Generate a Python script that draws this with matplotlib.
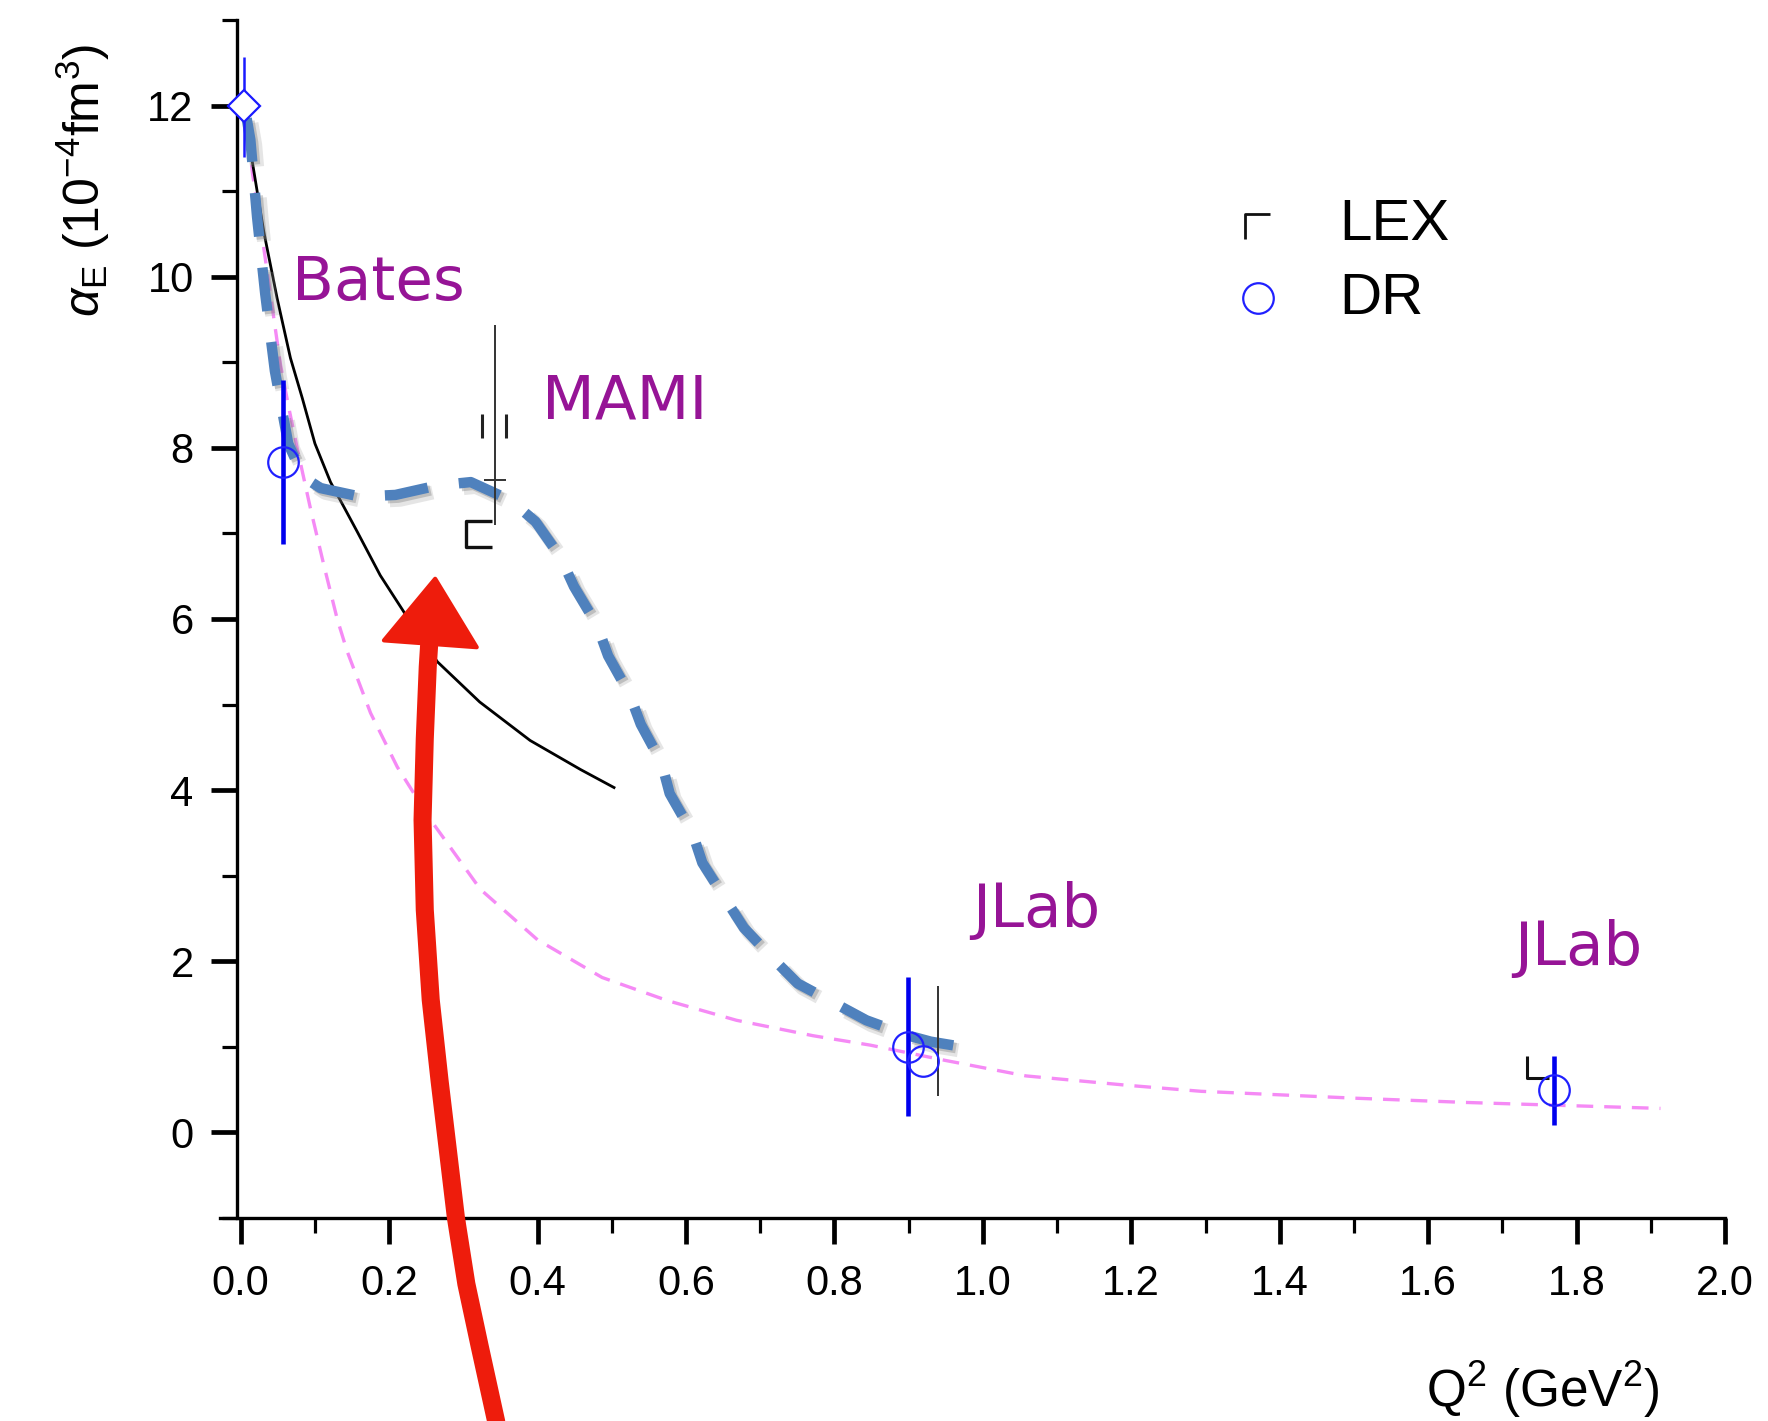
import matplotlib
matplotlib.use('Agg')
import matplotlib.pyplot as plt
import matplotlib.patheffects as pe
from matplotlib.path import Path
from matplotlib.patches import Polygon
from matplotlib.ticker import MultipleLocator, FormatStrFormatter

plt.rcParams['font.family'] = ['Liberation Sans', 'DejaVu Sans']
plt.rcParams['mathtext.fontset'] = 'custom'
plt.rcParams['mathtext.rm'] = 'Liberation Sans'
plt.rcParams['mathtext.it'] = 'Liberation Sans:italic'
plt.rcParams['mathtext.sf'] = 'Liberation Sans'

# ---------------- data ----------------
# real-photon point
rcs_q2 = [0.005]
rcs_alpha = [12.0]
rcs_err_lo = [0.60]
rcs_err_hi = [0.57]

# DR analysis points (blue circles)
dr_q2 = [0.057, 0.899, 0.919, 1.769]
dr_alpha = [7.84, 1.00, 0.83, 0.50]
dr_err_lo = [0.96, 0.81, 0.0, 0.41]
dr_err_hi = [0.95, 0.82, 0.0, 0.39]

# LEX analysis points (black)
lex_q2 = [0.343, 0.940]
lex_alpha = [7.63, 1.06]
lex_err_lo = [0.53, 0.64]
lex_err_hi = [1.81, 0.65]
lex_mark_q2 = [0.321, 1.748]
lex_mark_alpha = [6.99, 0.76]

# black solid curve
black_q2 = [0.006, 0.0155, 0.031, 0.049, 0.067, 0.083, 0.100, 0.121, 0.157, 0.188, 0.220,
            0.265, 0.322, 0.390, 0.458, 0.503]
black_alpha = [11.95, 11.35, 10.53, 9.75, 9.05, 8.58, 8.05, 7.60, 7.02, 6.51, 6.08,
               5.50, 5.03, 4.58, 4.24, 4.03]

# pink dashed curve
pink_q2 = [0.006, 0.016, 0.030, 0.0536, 0.065, 0.076, 0.094, 0.112, 0.130, 0.1435, 0.161,
           0.175, 0.211, 0.256, 0.323, 0.400, 0.487, 0.575, 0.668, 0.771, 0.848, 0.950,
           1.058, 1.195, 1.294, 1.500, 1.650, 1.800, 1.913]
pink_alpha = [11.95, 11.2, 10.4, 8.97, 8.46, 8.00, 7.29, 6.63, 6.00, 5.62, 5.22,
              4.90, 4.27, 3.65, 2.84, 2.25, 1.81, 1.54, 1.31, 1.13, 1.02, 0.84,
              0.66, 0.55, 0.48, 0.40, 0.35, 0.31, 0.28]

# thick blue hand-drawn dashed curve
blue_q2 = [0.008, 0.013, 0.022, 0.033, 0.046, 0.064, 0.074, 0.088, 0.1075, 0.161, 0.2085,
           0.265, 0.310, 0.363, 0.397, 0.431, 0.449, 0.480, 0.495, 0.524, 0.539, 0.567,
           0.578, 0.609, 0.622, 0.655, 0.678, 0.7195, 0.7505, 0.8045, 0.843, 0.900,
           0.930, 1.000]
blue_alpha = [11.85, 11.6, 10.7, 9.8, 8.9, 8.05, 7.86, 7.64, 7.53, 7.43, 7.45,
              7.56, 7.60, 7.39, 7.14, 6.72, 6.38, 5.93, 5.57, 5.12, 4.77, 4.32,
              3.96, 3.49, 3.15, 2.70, 2.39, 2.01, 1.74, 1.49, 1.31, 1.13,
              1.06, 0.96]

# labels
lab_text = ['Bates', 'MAMI', 'JLab', 'JLab']
lab_q2 = [0.0687, 0.4066, 0.986, 1.716]
lab_alpha = [9.73, 8.34, 2.40, 1.96]

# red hand-drawn arrow (annotation)
arrow_q2 = [0.346, 0.322, 0.304, 0.290, 0.279, 0.268, 0.256, 0.248, 0.245, 0.248, 0.252, 0.255]
arrow_alpha = [-3.45, -2.50, -1.77, -1.00, -0.20, 0.60, 1.55, 2.60, 3.65, 4.60, 5.44, 5.85]
head_q2 = [0.262, 0.193, 0.318]
head_alpha = [6.47, 5.75, 5.67]

# ---------------- figure ----------------
fig = plt.figure(figsize=(17.68, 14.21), dpi=100)
ax = fig.add_axes([0.1244, 0.1429, 0.8513, 0.843])

ax.set_xlim(-0.028, 2.0)
ax.set_ylim(-1.0, 13.0)

for s in ['top', 'right']:
    ax.spines[s].set_visible(False)
ax.spines['left'].set_position(('data', -0.0054))
ax.spines['left'].set_linewidth(2.4)
ax.spines['bottom'].set_linewidth(2.4)

ax.xaxis.set_major_locator(MultipleLocator(0.2))
ax.xaxis.set_minor_locator(MultipleLocator(0.1))
ax.yaxis.set_major_locator(MultipleLocator(2))
ax.yaxis.set_minor_locator(MultipleLocator(1))
ax.xaxis.set_major_formatter(FormatStrFormatter('%.1f'))
ax.yaxis.set_major_formatter(FormatStrFormatter('%d'))
ax.tick_params(which='major', direction='out', length=19, width=3.4, labelsize=30, pad=12)
ax.tick_params(which='minor', direction='out', length=11, width=2.3)
ax.tick_params(axis='x', which='major', pad=14)

# curves
ax.plot(pink_q2, pink_alpha, color='#f58af5', lw=2.4, dashes=(5, 3.3), zorder=2)
ax.plot(black_q2, black_alpha, color='black', lw=2.0, zorder=3)
ax.plot(blue_q2, blue_alpha, color='#4f81bd', lw=7.5, dashes=(4.2, 3.0),
        dash_capstyle='butt', dash_joinstyle='round', zorder=4,
        path_effects=[pe.SimpleLineShadow(offset=(3.5, -3.5), shadow_color='#999999', alpha=0.25,
                                          linewidth=10),
                      pe.SimpleLineShadow(offset=(2, -2), shadow_color='#777777', alpha=0.35),
                      pe.Normal()])

# LEX points
ax.errorbar(lex_q2, lex_alpha, yerr=[lex_err_lo, lex_err_hi], fmt='none', ecolor='#333333',
            elinewidth=1.4, capsize=0, zorder=5)
ax.plot([lex_q2[0]], [lex_alpha[0]], marker='_', ms=16, mew=1.4, color='#333333', ls='none', zorder=5)
ax.plot([0.325, 0.357], [8.25, 8.25], marker='|', ms=17, mew=2.2, color='#222222', ls='none', zorder=5)

bracket = Path([(0.5, 0.5), (-0.5, 0.5), (-0.5, -0.5), (0.5, -0.5)],
               [Path.MOVETO, Path.LINETO, Path.LINETO, Path.LINETO])
corner_bl = Path([(-0.5, 0.5), (-0.5, -0.5), (0.5, -0.5)],
                 [Path.MOVETO, Path.LINETO, Path.LINETO])
corner_tl = Path([(-0.5, -0.5), (-0.5, 0.5), (0.5, 0.5)],
                 [Path.MOVETO, Path.LINETO, Path.LINETO])
ax.plot([lex_mark_q2[0]], [lex_mark_alpha[0]], marker=bracket, ms=19, mew=2.4,
        color='#111111', mfc='none', ls='none', zorder=5)
ax.plot([lex_mark_q2[1]], [lex_mark_alpha[1]], marker=corner_bl, ms=16, mew=2.2,
        color='#111111', mfc='none', ls='none', zorder=5)

# DR points
ax.errorbar(rcs_q2, rcs_alpha, yerr=[rcs_err_lo, rcs_err_hi], fmt='D', ms=16, mfc='white',
            mec='#1a1aff', mew=1.6, ecolor='#1a1aff', elinewidth=1.8, capsize=0, zorder=6)
ax.errorbar(dr_q2, dr_alpha, yerr=[dr_err_lo, dr_err_hi], fmt='none', ecolor='#0000ee',
            elinewidth=3.3, capsize=0, zorder=6)
ax.plot(dr_q2, dr_alpha, 'o', ms=22, mfc='none', mec='#2020ff', mew=1.6, zorder=7)

# labels
for t, x, y in zip(lab_text, lab_q2, lab_alpha):
    ax.text(x, y, t, color='#961496', fontsize=44, family=['DejaVu Sans'], ha='left', va='baseline',
            zorder=8)

# legend (manual)
ax.plot([0.689], [0.828], transform=ax.transAxes, marker=corner_tl, ms=18, mew=2.0,
        color='#111111', mfc='none', ls='none', clip_on=False)
ax.plot([0.690], [0.768], transform=ax.transAxes, marker='o', ms=22, mfc='none',
        mec='#2020ff', mew=1.6, ls='none', clip_on=False)
ax.text(0.744, 0.8285, 'LEX', transform=ax.transAxes, fontsize=42, ha='left', va='center')
ax.text(0.744, 0.767, 'DR', transform=ax.transAxes, fontsize=42, ha='left', va='center')

# axis labels
ax.set_xlabel(r'Q$^2$ (GeV$^2$)', fontsize=37)
ax.xaxis.set_label_coords(0.879, -0.118)
ax.set_ylabel(r'$\alpha_{\rm E}$ (10$^{-4}$fm$^{3}$)', fontsize=36)
ax.yaxis.set_label_coords(-0.072, 0.866)

# red hand-drawn arrow
ax.plot(arrow_q2, arrow_alpha, color='#ee1c0c', lw=13, solid_capstyle='round',
        solid_joinstyle='round', clip_on=False, zorder=9)
ax.add_patch(Polygon(list(zip(head_q2, head_alpha)), closed=True, facecolor='#ee1c0c',
                     edgecolor='#ee1c0c', lw=3, joinstyle='round', clip_on=False, zorder=9))

fig.savefig('out.png', dpi=100, facecolor='white')
